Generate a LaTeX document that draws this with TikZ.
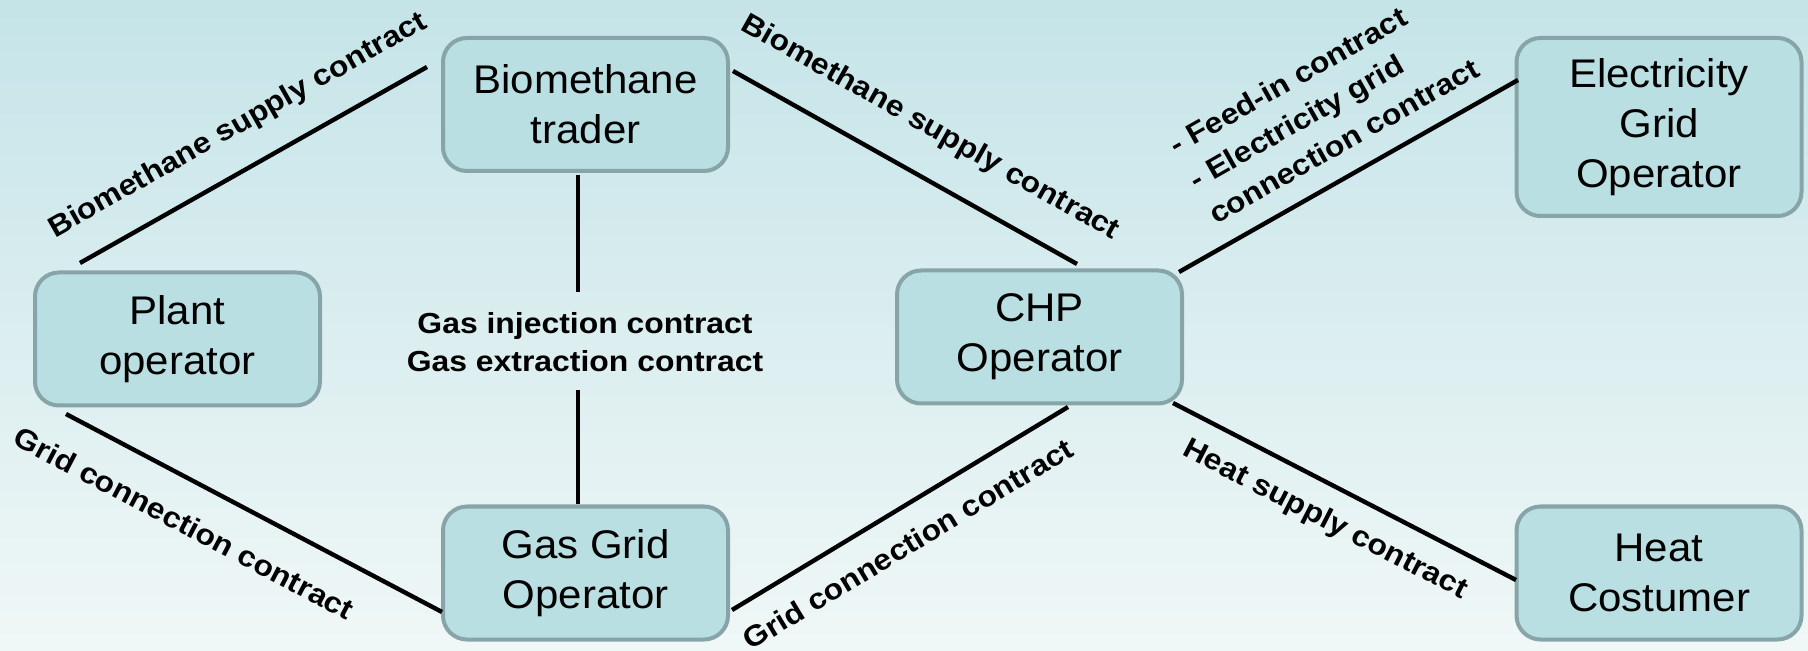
\documentclass[tikz,border=0pt]{standalone}
\usepackage{fontspec}
\setmainfont{Liberation Sans}
\newfontfamily\nodefont[FakeStretch=1.05]{Liberation Sans}
\newfontfamily\lblfont[FakeStretch=1.1]{Liberation Sans Bold}
\usetikzlibrary{calc}
\definecolor{bgtop}{HTML}{C5E4E8}
\definecolor{bgbot}{HTML}{F0F7F7}
\definecolor{boxfill}{HTML}{B9DFE2}
\definecolor{boxborder}{HTML}{87A5A8}
\begin{document}
\begin{tikzpicture}[x=0.5pt,y=-0.5pt,
  actor/.style={draw=boxborder, fill=boxfill, line width=2pt, rounded corners=12pt,
    minimum width=142.5pt, minimum height=66.5pt, align=center, inner sep=0pt,
    font=\nodefont\fontsize{20pt}{25pt}\selectfont},
  link/.style={line width=2.2pt, black},
  lbl/.style={inner sep=0pt, align=center, font=\lblfont\fontsize{14.5pt}{20pt}\selectfont}]
\useasboundingbox (0,0) rectangle (1808,651);
\shade[top color=bgtop, bottom color=bgbot] (0,0) rectangle (1808,651);

% actors
\node[actor] (bio)   at (585.5,104.5) {Biomethane\\trader};
\node[actor] (plant) at (177.5,339)   {Plant\\operator};
\node[actor] (gas)   at (585.5,573)   {Gas Grid\\Operator};
\node[actor] (chp)   at (1039.5,337)  {CHP\\Operator};
\node[actor, minimum height=89pt] (elec) at (1659,127) {Electricity\\Grid\\Operator};
\node[actor] (heat)  at (1659,573)    {Heat\\Costumer};

% labels
\node[lbl, rotate=29.5]  (l1) at (238,126)  {Biomethane supply contract};
\node[lbl, rotate=-29.4] (l2) at (930,128)  {Biomethane supply contract};
\node[lbl, rotate=29.5, align=left, font=\lblfont\fontsize{14.5pt}{20pt}\selectfont] (l3) at (1324,106)
  {- Feed-in contract\\- Electricity grid\\connection contract};
\node[lbl, rotate=-27.8] (l4) at (184,523)  {Grid connection contract};
\node[lbl, font=\lblfont\fontsize{14.5pt}{19pt}\selectfont] (gasinj) at (585,342)
  {Gas injection contract\\Gas extraction contract};
\node[lbl, rotate=31.1]  (l6) at (908,544)  {Grid connection contract};
\node[lbl, rotate=-27.3] (l7) at (1325,520) {Heat supply contract};

% connectors
\draw[link] ($(plant.center)+(-97.5,-76)$) -- ($(bio.center)+(-158.5,-37.5)$);
\draw[link] ($(bio.center)+(147.5,-33.5)$) -- ($(chp.center)+(37.5,-73)$);
\draw[link] ($(chp.center)+(139.5,-65)$) -- ($(elec.center)+(-141,-47)$);
\draw[link] ($(plant.center)+(-111.5,75)$) -- ($(gas.center)+(-143.5,39)$);
\draw[link] ($(bio.center)+(-7.5,70.5)$) -- ($(gasinj.center)+(-7,-50)$);
\draw[link] ($(gasinj.center)+(-7,48)$) -- ($(gas.center)+(-7.5,-69)$);
\draw[link] ($(gas.center)+(146.5,37)$) -- ($(chp.center)+(28.5,70)$);
\draw[link] ($(chp.center)+(133.5,66)$) -- ($(heat.center)+(-143,7)$);
\end{tikzpicture}
\end{document}
